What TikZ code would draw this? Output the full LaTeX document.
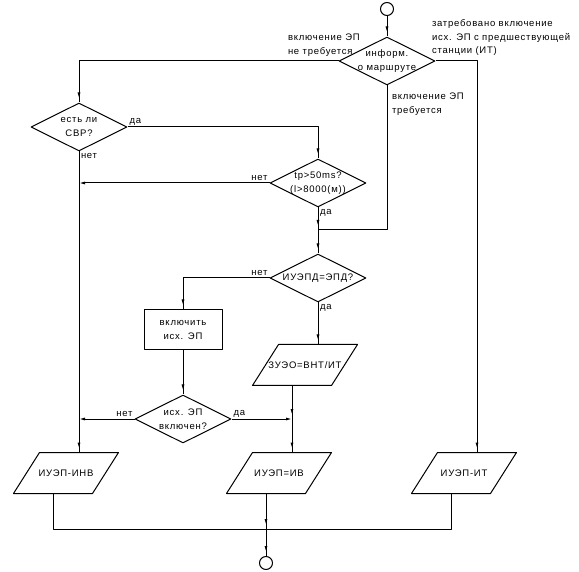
\documentclass[tikz,border=0pt]{standalone}
\usepackage{fontspec}
\setmainfont{Liberation Sans}[LetterSpace=8]
\usetikzlibrary{shapes.geometric,arrows.meta,decorations.markings}
\newcommand{\iobox}[3]{%
  \node[iotext] (#1) at (#2) {#3};
  \draw ([xshift=13pt]#1.north west) -- ([xshift=13pt]#1.north east) -- ([xshift=-13pt]#1.south east) -- ([xshift=-13pt]#1.south west) -- cycle;
  \coordinate (#1-in) at ([xshift=13pt]#1.north);
  \coordinate (#1-out) at ([xshift=-13pt]#1.south);
}
\begin{document}
\begin{tikzpicture}[x=1pt,y=-1pt,line width=1pt,line join=round,font=\fontsize{9.5}{13.5}\selectfont,
  decide/.style={draw,diamond,aspect=2,minimum width=96pt,minimum height=48pt,inner sep=-2.5pt,align=center},
  act/.style={draw,rectangle,minimum width=78pt,minimum height=40pt,align=center},
  iotext/.style={minimum width=78pt,minimum height=40pt,inner sep=0pt,align=center},
  term/.style={draw,circle,minimum size=13pt,inner sep=0pt},
  lbl/.style={inner sep=1.5pt,align=left},
  flow/.style={postaction={decorate},decoration={markings,mark=at position -4pt with {\arrow{Latex[length=6pt,width=3pt]}}}},
  tojoin/.style={-{Latex[length=6pt,width=3pt]}}]
\useasboundingbox (0,0) rectangle (579,572);
\node[term] (enter) at (387,9) {};
\node[decide] (info) at (387,61) {информ.\\о маршруте};
\node[decide] (svr) at (79,127) {есть ли\\СВР?};
\node[decide] (tp) at (318,183) {tp>50ms?\\(l>8000(м))};
\node[decide] (epd) at (318,278) {ИУЭПД=ЭПД?};
\node[act] (on) at (183,330) {включить\\исх. ЭП};
\node[decide] (chk) at (183,419) {исх. ЭП\\включен?};
\iobox{zuo}{305,365}{ЗУЭО=ВНТ/ИТ}
\iobox{inv}{66,473}{ИУЭП-ИНВ}
\iobox{iv}{279,473}{ИУЭП=ИВ}
\iobox{it}{464,473}{ИУЭП-ИТ}
\node[term] (exit) at (266,563) {};
\coordinate (jm) at (318,230);
\coordinate (jc) at (292,419);
\coordinate (jb) at (266,529);
% labels
\node[lbl,anchor=west] (noep) at (286,45) {включение ЭП\\не требуется};
\node[lbl,anchor=west] (req) at (430,38) {затребовано включение\\исх. ЭП с предшествующей\\станции (ИТ)};
\node[lbl,anchor=west] (needep) at (390,104) {включение ЭП\\требуется};
\node[lbl,anchor=south west] (svryes) at (svr.east) {да};
\node[lbl,anchor=north west] (svrno) at (svr.south) {нет};
\node[lbl,anchor=south east] (tpno) at (tp.west) {нет};
\node[lbl,anchor=north west] (tpyes) at (tp.south) {да};
\node[lbl,anchor=south east] (epdno) at (epd.west) {нет};
\node[lbl,anchor=north west] (epdyes) at (epd.south) {да};
\node[lbl,anchor=south east] (chkno) at (chk.west) {нет};
\node[lbl,anchor=south west] (chkyes) at (chk.east) {да};
% connectors
\draw[flow] (enter) -- (info);
\draw[flow] (info.west) -| (svr.north);
\draw[flow] (info.east) -| (it-in);
\draw (info.south) |- (jm);
\draw[flow] (svr.east) -| (tp.north);
\draw[flow] (svr.south) -- (inv-in);
\draw[tojoin] (tp.west) -- (tp.west -| svr.south);
\draw[flow] (tp.south) -- (jm);
\draw[flow] (jm) -- (epd.north);
\draw[flow] (epd.west) -| (on.north);
\draw[flow] (on) -- (chk);
\draw[tojoin] (chk.west) -- (chk.west -| svr.south);
\draw[tojoin] (chk.east) -- (jc);
\draw[flow] (epd.south) -- (zuo-in);
\draw[flow] (zuo-out) -- (jc);
\draw[flow] (jc) -- (iv-in);
\draw (inv-out) |- (jb);
\draw (it-out) |- (jb);
\draw[flow] (iv-out) -- (jb);
\draw[flow] (jb) -- (exit);
\end{tikzpicture}
\end{document}
